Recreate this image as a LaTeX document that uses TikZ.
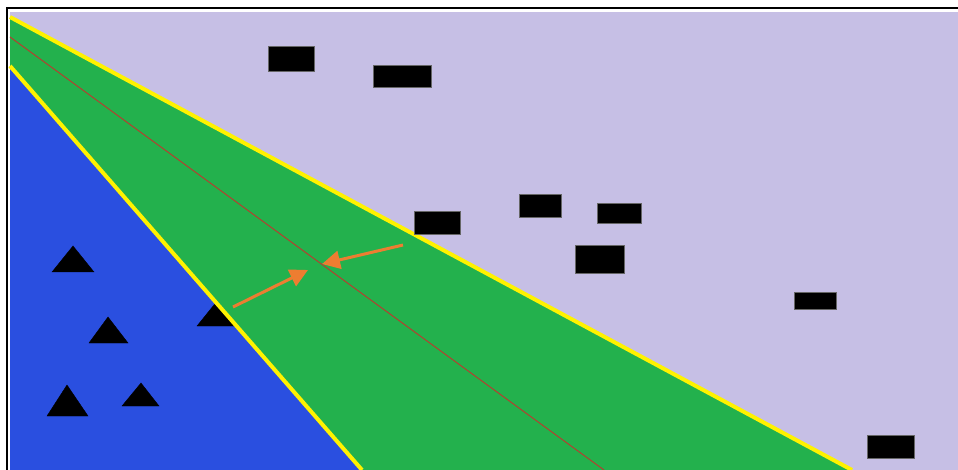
\documentclass[tikz,border=0pt]{standalone}
\usepackage{tikz}
\usetikzlibrary{arrows.meta}

\definecolor{lavendel}{HTML}{C6BFE5}
\definecolor{bandgruen}{HTML}{23B14D}
\definecolor{klasseblau}{HTML}{2A4FE0}
\definecolor{randgelb}{HTML}{FFF200}
\definecolor{pfeilorange}{HTML}{ED7D31}
\definecolor{trennbraun}{HTML}{B3402F}

\tikzset{
	punkt/.style={fill=black,draw=black!60,line width=0.6pt},
	dreieck/.style={fill=black},
	rand/.style={randgelb,line width=4pt},
	abstand/.style={pfeilorange,line width=3pt,-{Triangle[length=18pt,width=18pt]}}
}

\begin{document}
\begin{tikzpicture}[x=1pt,y=-1pt]
		\fill[white] (0,0) rectangle (958,470);
		\useasboundingbox (0,0) rectangle (958,470);
		% Rahmen
		\draw[black,line width=2pt] (7,470) -- (7,8) -- (958,8);
		% Hintergrund
		\fill[lavendel] (10,12) rectangle (958,470);
		% Klasse unten links
		\fill[klasseblau] (10,66) -- (362,470) -- (10,470) -- cycle;
		\draw[dreieck] (52,272) -- (73,246) -- (94,272) -- cycle;
		\draw[dreieck] (89,343) -- (108,317) -- (128,343) -- cycle;
		\draw[dreieck] (47,416) -- (67,385) -- (88,416) -- cycle;
		\draw[dreieck] (122,406) -- (141,383) -- (159,406) -- cycle;
		\draw[dreieck] (197,326) -- (218,300) -- (239,326) -- cycle;
		% Rand (margin)
		\fill[bandgruen] (10,17) -- (852,470) -- (362,470) -- (10,66) -- cycle;
		\draw[rand] (10,17) -- (852,470);
		\draw[rand] (10,66) -- (362,470);
		% Trennlinie
		\draw[trennbraun,line width=1pt] (10,37) -- (604,470);
		% Klasse oben rechts
		\draw[punkt] (268,46) rectangle (314,71);
		\draw[punkt] (373,65) rectangle (431,87);
		\draw[punkt] (414,211) rectangle (460,234);
		\draw[punkt] (519,194) rectangle (561,217);
		\draw[punkt] (597,203) rectangle (641,223);
		\draw[punkt] (575,245) rectangle (624,273);
		\draw[punkt] (794,292) rectangle (836,309);
		\draw[punkt] (867,435) rectangle (914,458);
		% Pfeile zur Trennlinie
		\coordinate (unten) at (233,307);
		\coordinate (mitteu) at (308,270);
		\coordinate (oben) at (403,245);
		\coordinate (mitteo) at (322,264);
		\draw[abstand] (unten) -- (mitteu);
		\draw[abstand] (oben) -- (mitteo);
	\end{tikzpicture}
\end{document}
